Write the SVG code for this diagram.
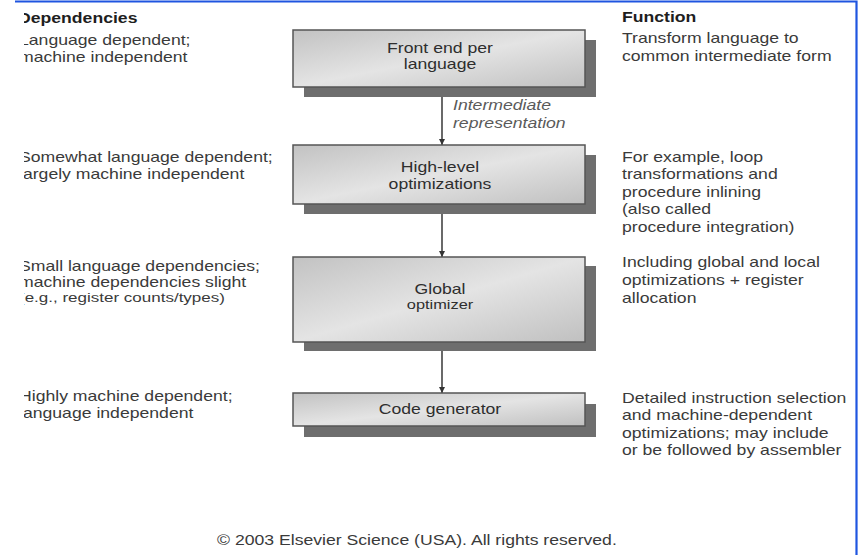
<svg xmlns="http://www.w3.org/2000/svg" width="863" height="555" viewBox="0 0 863 555">
<style>
text{font-family:"Liberation Sans",Arial,sans-serif;font-size:14px;fill:#3a3a3a}
.h{font-weight:bold;fill:#1e1e1e}
.n{fill:#2e2e2e;text-anchor:middle}
.it{font-style:italic;fill:#5a5a5a}
.box{fill:url(#g);stroke:#555;stroke-width:1.5}
.sh{fill:#6e6e6e}
.ln{stroke:#444;stroke-width:1.6;fill:none}
</style>
<defs>
<linearGradient id="g" x1="0" y1="0" x2="1" y2="1">
<stop offset="0" stop-color="#c2c2c2"/>
<stop offset="0.5" stop-color="#e4e4e4"/>
<stop offset="1" stop-color="#c0c0c0"/>
</linearGradient>
<marker id="a" viewBox="0 0 8 8" refX="8" refY="4" markerWidth="4" markerHeight="4" orient="auto">
<path d="M0,0L8,4L0,8z" fill="#333"/>
</marker>
<clipPath id="lc"><rect x="24" y="0" width="300" height="555"/></clipPath>
</defs>
<rect width="863" height="555" fill="#fff"/>
<path d="M15,1.5H856.5V555" fill="none" stroke="#1f55e0" stroke-width="2.2"/>

<g id="connectors">
<line class="ln" x1="442" y1="87" x2="442" y2="145" marker-end="url(#a)"/>
<line class="ln" x1="442" y1="204" x2="442" y2="257" marker-end="url(#a)"/>
<line class="ln" x1="442" y1="342" x2="442" y2="393" marker-end="url(#a)"/>
<text class="it" transform="translate(453,110) scale(1.26,1)"><tspan x="0" y="0">Intermediate</tspan><tspan x="0" y="18">representation</tspan></text>
</g>

<g id="front-end">
<rect class="sh" x="304" y="40" width="292" height="57"/>
<rect class="box" x="293" y="30" width="292" height="57"/>
<text class="n" transform="translate(440,53) scale(1.26,1)"><tspan x="0" y="0">Front end per</tspan><tspan x="0" y="16">language</tspan></text>
</g>

<g id="high-level">
<rect class="sh" x="304" y="155" width="292" height="59"/>
<rect class="box" x="293" y="145" width="292" height="59"/>
<text class="n" transform="translate(440,172) scale(1.26,1)"><tspan x="0" y="0">High-level</tspan><tspan x="0" y="17">optimizations</tspan></text>
</g>

<g id="global">
<rect class="sh" x="304" y="266" width="292" height="85"/>
<rect class="box" x="293" y="257" width="292" height="85"/>
<text class="n" transform="translate(440,294) scale(1.26,1)"><tspan x="0" y="0">Global</tspan><tspan x="0" y="15" style="font-size:13px">optimizer</tspan></text>
</g>

<g id="code-generator">
<rect class="sh" x="304" y="404" width="292" height="33"/>
<rect class="box" x="293" y="393" width="292" height="33"/>
<text class="n" transform="translate(440,414) scale(1.26,1)">Code generator</text>
</g>

<g id="dependencies" clip-path="url(#lc)">
<text class="h" transform="translate(18,23) scale(1.26,1)">Dependencies</text>
<text transform="translate(19,45) scale(1.26,1)"><tspan x="0" y="0">Language dependent;</tspan><tspan x="0" y="17">machine independent</tspan></text>
<text transform="translate(19,162) scale(1.26,1)"><tspan x="0" y="0">Somewhat language dependent;</tspan><tspan x="0" y="17">largely machine independent</tspan></text>
<text transform="translate(19,271) scale(1.26,1)"><tspan x="0" y="0">Small language dependencies;</tspan><tspan x="0" y="16">machine dependencies slight</tspan><tspan x="0" y="31" style="font-size:13.5px">(e.g., register counts/types)</tspan></text>
<text transform="translate(19,401) scale(1.26,1)"><tspan x="0" y="0">Highly machine dependent;</tspan><tspan x="0" y="17">language independent</tspan></text>
</g>

<g id="function">
<text class="h" transform="translate(622,22) scale(1.26,1)">Function</text>
<text transform="translate(622,43) scale(1.26,1)"><tspan x="0" y="0">Transform language to</tspan><tspan x="0" y="18">common intermediate form</tspan></text>
<text transform="translate(622,162) scale(1.26,1)"><tspan x="0" y="0">For example, loop</tspan><tspan x="0" y="17.5">transformations and</tspan><tspan x="0" y="35">procedure inlining</tspan><tspan x="0" y="52.5">(also called</tspan><tspan x="0" y="70">procedure integration)</tspan></text>
<text transform="translate(622,267) scale(1.26,1)"><tspan x="0" y="0">Including global and local</tspan><tspan x="0" y="18">optimizations + register</tspan><tspan x="0" y="36">allocation</tspan></text>
<text transform="translate(622,403) scale(1.26,1)"><tspan x="0" y="0">Detailed instruction selection</tspan><tspan x="0" y="17.5">and machine-dependent</tspan><tspan x="0" y="35">optimizations; may include</tspan><tspan x="0" y="52.5">or be followed by assembler</tspan></text>
</g>

<text transform="translate(217,545) scale(1.26,1)">© 2003 Elsevier Science (USA). All rights reserved.</text>
</svg>
